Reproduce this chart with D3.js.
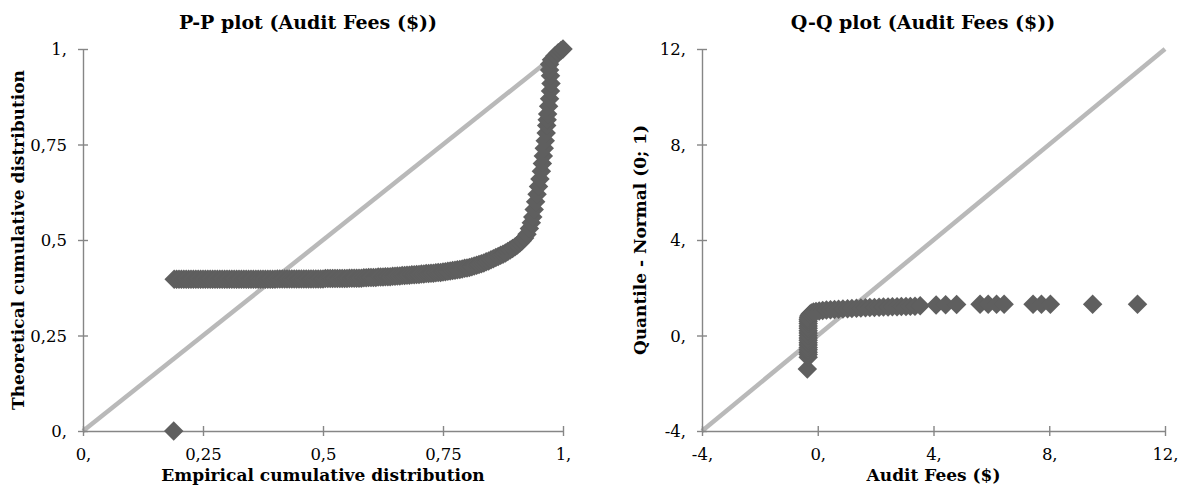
<!DOCTYPE html>
<html><head><meta charset="utf-8">
<script src="https://cdn.jsdelivr.net/npm/d3@7"></script>
<style>body{margin:0;background:#fff}</style></head>
<body><svg id="c" width="1190" height="487"></svg>
<script>
// ---------- data ----------
const ppTicks = [0, 0.25, 0.5, 0.75, 1];
const ppTickLabels = ["0,", "0,25", "0,5", "0,75", "1,"];
const qqTicks = [-4, 0, 4, 8, 12];
const qqTickLabels = ["-4,", "0,", "4,", "8,", "12,"];

const ppTitle = "P-P plot (Audit Fees ($))";
const ppXTitle = "Empirical cumulative distribution";
const ppYTitle = "Theoretical cumulative distribution";
const qqTitle = "Q-Q plot (Audit Fees ($))";
const qqXTitle = "Audit Fees ($)";
const qqYTitle = "Quantile - Normal (0; 1)";

// P-P points: [empirical, theoretical]
const ppPoints = [
 [0.189,0.0],
 [0.190,0.397],[0.195,0.397],[0.200,0.397],[0.205,0.397],[0.210,0.397],[0.215,0.397],[0.220,0.397],[0.225,0.397],[0.230,0.397],[0.235,0.397],
 [0.240,0.397],[0.245,0.397],[0.250,0.397],[0.255,0.397],[0.260,0.397],[0.265,0.397],[0.270,0.397],[0.275,0.397],[0.280,0.397],[0.285,0.397],
 [0.290,0.397],[0.295,0.397],[0.300,0.397],[0.305,0.397],[0.310,0.397],[0.315,0.397],[0.320,0.397],[0.325,0.397],[0.330,0.397],[0.335,0.397],
 [0.340,0.397],[0.345,0.397],[0.350,0.397],[0.355,0.397],[0.360,0.397],[0.365,0.397],[0.370,0.397],[0.375,0.397],[0.380,0.397],[0.385,0.397],
 [0.390,0.397],[0.395,0.397],[0.400,0.397],
 [0.405,0.398],[0.410,0.398],[0.415,0.398],[0.420,0.398],[0.425,0.398],[0.430,0.398],[0.435,0.398],[0.440,0.398],[0.445,0.398],[0.450,0.398],
 [0.455,0.398],[0.460,0.398],[0.465,0.398],[0.470,0.398],[0.475,0.398],[0.480,0.398],[0.485,0.398],[0.490,0.398],[0.495,0.398],[0.500,0.398],
 [0.505,0.399],[0.510,0.399],[0.515,0.399],[0.520,0.399],[0.525,0.399],[0.530,0.399],[0.535,0.399],[0.540,0.399],[0.545,0.399],[0.550,0.399],
 [0.555,0.400],[0.560,0.400],[0.565,0.400],[0.570,0.400],[0.575,0.400],[0.580,0.400],
 [0.585,0.401],[0.590,0.401],[0.595,0.402],[0.600,0.402],[0.605,0.402],[0.610,0.402],[0.615,0.403],[0.620,0.403],[0.625,0.403],[0.630,0.404],
 [0.635,0.404],[0.640,0.404],[0.645,0.405],[0.650,0.405],[0.655,0.406],[0.660,0.406],[0.665,0.407],[0.670,0.407],[0.675,0.408],[0.680,0.408],
 [0.685,0.409],[0.690,0.409],[0.695,0.410],[0.700,0.410],[0.705,0.411],[0.710,0.411],[0.715,0.412],[0.720,0.412],[0.725,0.413],[0.730,0.413],
 [0.735,0.414],[0.740,0.415],[0.745,0.415],[0.750,0.416],[0.755,0.417],[0.760,0.418],[0.765,0.419],[0.770,0.420],[0.775,0.421],[0.780,0.422],
 [0.785,0.423],[0.790,0.424],[0.795,0.426],[0.800,0.427],[0.805,0.428],[0.810,0.430],[0.815,0.432],[0.820,0.434],[0.825,0.436],[0.830,0.438],
 [0.835,0.440],[0.840,0.443],[0.845,0.445],[0.850,0.448],[0.855,0.451],[0.860,0.454],[0.865,0.457],[0.870,0.460],[0.875,0.463],[0.880,0.466],
 [0.885,0.470],[0.890,0.474],[0.895,0.478],[0.900,0.482],[0.905,0.487],[0.910,0.492],[0.915,0.498],[0.920,0.505],
 [0.925,0.515],[0.930,0.530],[0.934,0.545],[0.937,0.560],[0.940,0.580],[0.943,0.600],[0.946,0.620],[0.949,0.640],[0.952,0.660],[0.955,0.680],
 [0.957,0.700],[0.959,0.720],[0.961,0.740],[0.963,0.760],[0.965,0.780],[0.966,0.800],[0.967,0.815],[0.968,0.830],[0.970,0.850],[0.972,0.870],
 [0.974,0.890],[0.975,0.910],[0.974,0.930],[0.972,0.945],[0.972,0.960],[0.976,0.972],[0.983,0.982],[0.990,0.990],[0.996,0.996],[1.000,1.000]
];

// Q-Q points: [standardized audit fees, normal quantile]
const qqPoints = [
 [-0.36,-1.40],
 [-0.33,-0.91],[-0.33,-0.80],[-0.33,-0.70],[-0.33,-0.60],[-0.33,-0.50],[-0.33,-0.40],[-0.33,-0.30],[-0.33,-0.20],[-0.33,-0.10],
 [-0.33,0.00],[-0.33,0.10],[-0.33,0.20],[-0.33,0.30],[-0.33,0.40],[-0.33,0.50],[-0.33,0.60],[-0.33,0.68],
 [-0.32,0.76],[-0.30,0.83],[-0.27,0.89],[-0.22,0.94],[-0.15,0.98],[-0.06,1.01],[0.05,1.03],[0.17,1.05],
 [0.30,1.07],[0.44,1.08],[0.58,1.09],[0.72,1.10],[0.87,1.11],[1.03,1.12],[1.18,1.13],[1.34,1.14],[1.49,1.15],
 [1.65,1.16],[1.80,1.17],[1.96,1.17],[2.12,1.18],[2.27,1.19],[2.43,1.19],[2.58,1.20],[2.74,1.20],[2.89,1.21],
 [3.05,1.21],[3.20,1.22],[3.36,1.23],[3.54,1.25],
 [4.09,1.28],[4.42,1.29],[4.80,1.30],[5.61,1.31],[5.89,1.31],[6.18,1.31],[6.44,1.31],
 [7.44,1.31],[7.73,1.31],[8.04,1.31],[9.50,1.31],[11.05,1.31]
];

const ppDiag = [0, 1];
const qqDiag = [-4, 12];

// ---------- drawing ----------
const svg = d3.select("#c");
const FONT = "'DejaVu Serif', 'Liberation Serif', serif";
const AXIS = "#868686", MARK = "#5f5f5f", DIAG = "#b9b9b9";

function panel(o) {
  const x = d3.scaleLinear().domain(o.domain).range([o.x0, o.x1]);
  const y = d3.scaleLinear().domain(o.domain).range([431, 49]);
  const g = svg.append("g");

  g.append("line")
    .attr("x1", x(o.diag[0])).attr("y1", y(o.diag[0]))
    .attr("x2", x(o.diag[1])).attr("y2", y(o.diag[1]))
    .attr("stroke", DIAG).attr("stroke-width", 4.5);

  const fmt = (d) => o.labels[o.ticks.indexOf(d)];
  const ax = g.append("g").attr("transform", `translate(0,${y(o.domain[0])})`)
    .call(d3.axisBottom(x).tickValues(o.ticks).tickFormat(fmt).tickSize(5).tickSizeOuter(0));
  ax.selectAll(".tick line").attr("y1", -5).attr("y2", 5);
  ax.selectAll(".tick text").attr("y", 29).attr("dy", 0);

  const ay = g.append("g").attr("transform", `translate(${x(o.domain[0])},0)`)
    .call(d3.axisLeft(y).tickValues(o.ticks).tickFormat(fmt).tickSize(5).tickSizeOuter(0));
  ay.selectAll(".tick line").attr("x1", -5).attr("x2", 5);
  ay.selectAll(".tick text").attr("x", -16).attr("dy", "0.35em");

  [ax, ay].forEach(a => {
    a.select(".domain").attr("stroke", AXIS).attr("stroke-width", 1.4);
    a.selectAll(".tick line").attr("stroke", AXIS).attr("stroke-width", 1.4);
    a.selectAll(".tick text").attr("fill", "#000")
      .style("font-family", FONT).style("font-size", "16.5px");
  });

  const diamond = d3.symbol().type(d3.symbolSquare).size(190);
  g.append("g").selectAll("path").data(o.points)
    .join("path")
    .attr("d", diamond)
    .attr("transform", d => `translate(${x(d[0])},${y(d[1])}) rotate(45)`)
    .attr("fill", MARK);

  g.append("text").text(o.title)
    .attr("x", o.titleX).attr("y", 29).attr("text-anchor", "middle")
    .style("font-family", FONT).style("font-size", "19px").style("font-weight", "bold");
  g.append("text").text(o.xTitle)
    .attr("x", (o.x0 + o.x1) / 2).attr("y", 481).attr("text-anchor", "middle")
    .style("font-family", FONT).style("font-size", "17px").style("font-weight", "bold");
  g.append("text").text(o.yTitle)
    .attr("transform", `translate(${o.yTitleX},240) rotate(-90)`)
    .attr("text-anchor", "middle")
    .style("font-family", FONT).style("font-size", "17px").style("font-weight", "bold");
}

panel({domain: [0, 1], x0: 83, x1: 563, ticks: ppTicks, labels: ppTickLabels, diag: ppDiag,
       points: ppPoints, title: ppTitle, xTitle: ppXTitle, yTitle: ppYTitle,
       titleX: 308, yTitleX: 24});
panel({domain: [-4, 12], x0: 702, x1: 1165, ticks: qqTicks, labels: qqTickLabels, diag: qqDiag,
       points: qqPoints, title: qqTitle, xTitle: qqXTitle, yTitle: qqYTitle,
       titleX: 923, yTitleX: 646});
</script>
</body></html>
